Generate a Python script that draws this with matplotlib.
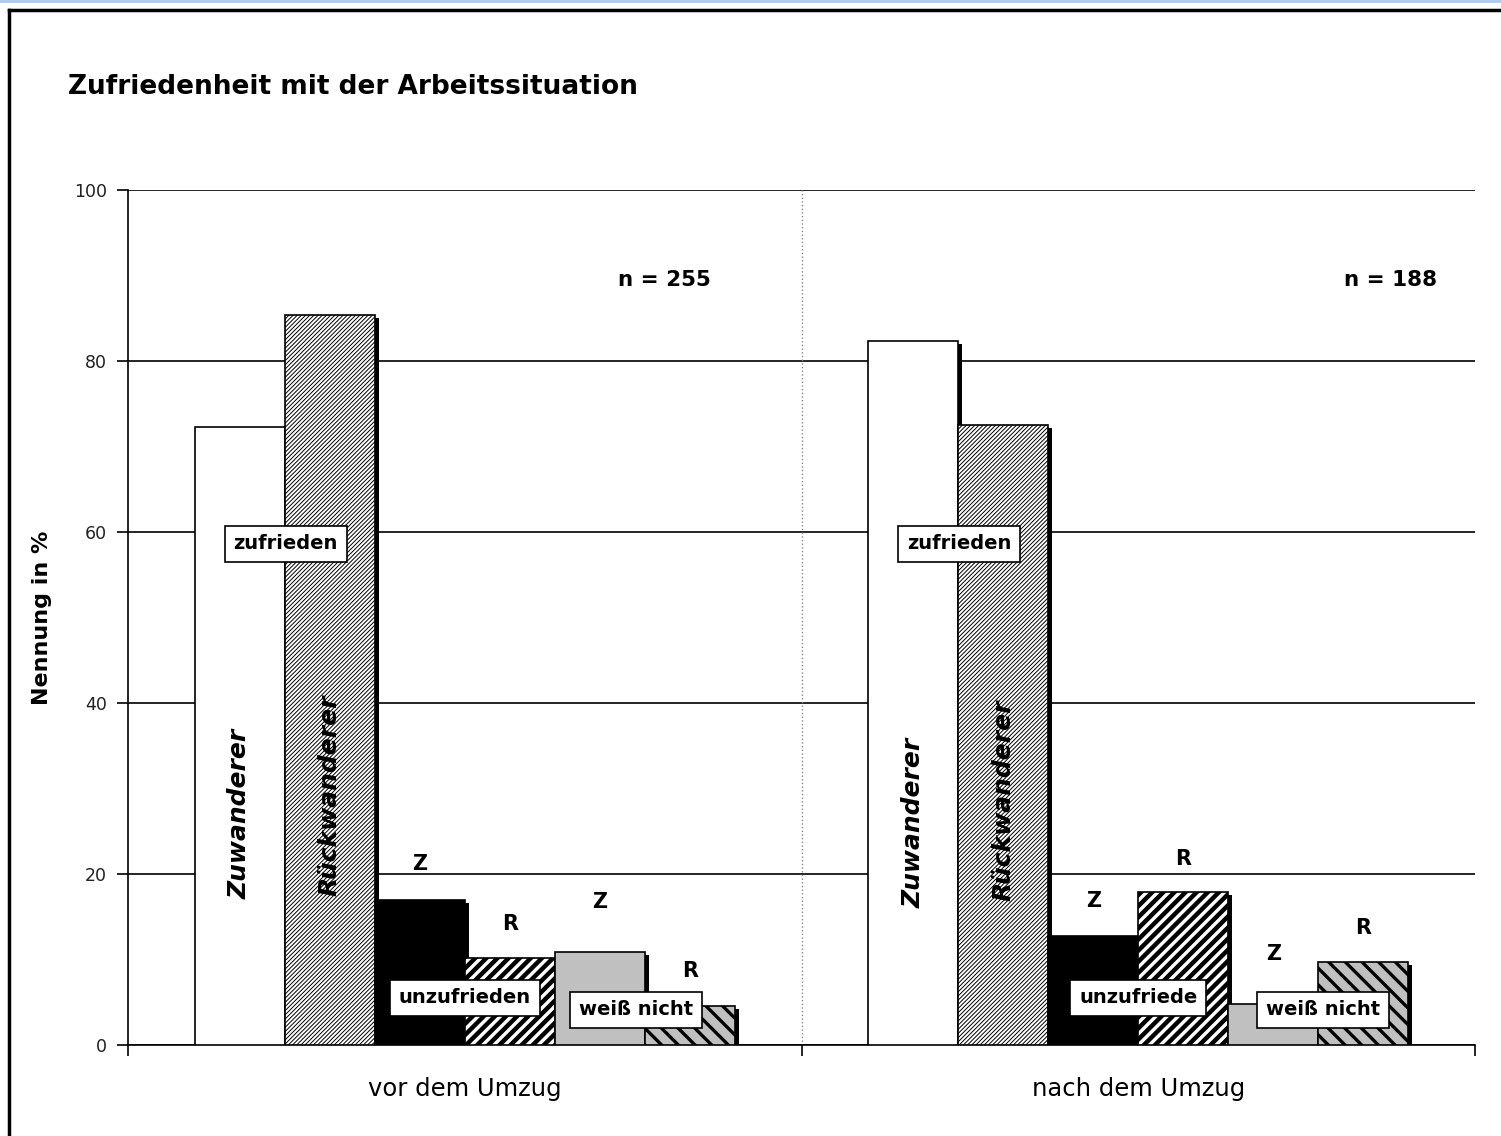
'''
Zufriedenheit mit der Arbeitssituation - grouped bars before/after the move.
'''
import matplotlib
matplotlib.use('Agg')
import matplotlib.pyplot as plt
import matplotlib.transforms as mtransforms
from matplotlib.lines import Line2D

# categories on the x axis
groups = ['vor dem Umzug', 'nach dem Umzug']
sample_sizes = ['n = 255', 'n = 188']

# series: Z = Zuwanderer, R = Rückwanderer
z_zufrieden = [72.3, 82.3]
r_zufrieden = [85.4, 72.5]
z_unzufrieden = [17.0, 12.7]
r_unzufrieden = [10.2, 17.9]
z_weiss_nicht = [10.9, 4.8]
r_weiss_nicht = [4.6, 9.7]

series = [z_zufrieden, r_zufrieden, z_unzufrieden,
          r_unzufrieden, z_weiss_nicht, r_weiss_nicht]
series_letters = ['', '', 'Z', 'R', 'Z', 'R']
box_labels = [['zufrieden', 'unzufrieden', 'weiß nicht'],
              ['zufrieden', 'unzufriede', 'weiß nicht']]

# look of each series: facecolor, hatch, hatch linewidth
styles = [
    ('white', '', 1.0),
    ('white', '////////', 0.7),
    ('black', '', 1.0),
    ('white', '///', 3.2),
    ('#c0c0c0', '', 1.0),
    ('#c0c0c0', '\\\\', 2.4),
]
# gap between bar top and its Z / R letter
letter_gap = [0, 0, 4.2, 3.9, 5.8, 4.0]

fig = plt.figure(figsize=(15.01, 11.36), dpi=100)
ax = fig.add_axes([128 / 1501, 1 - 1045 / 1136, 1347 / 1501, 855 / 1136])

width = 0.1336
offsets = [(i - 2.5) * width for i in range(6)]

# shadow shifted right and down
shadow_tr = ax.transData + mtransforms.ScaledTranslation(4 / 100, -3 / 100, fig.dpi_scale_trans)

for vals, off, (fc, hatch, hlw) in zip(series, offsets, styles):
    xs = [g + off for g in range(len(groups))]
    ax.bar(xs, vals, width, color='black', transform=shadow_tr, zorder=2)
    bars = ax.bar(xs, vals, width, facecolor=fc, edgecolor='black',
                  linewidth=1.2, hatch=hatch, zorder=3)
    for b in bars:
        if hasattr(b, 'set_hatch_linewidth'):
            b.set_hatch_linewidth(hlw)

# Z / R letters above the small bars
for vals, off, letter, gap in zip(series, offsets, series_letters, letter_gap):
    if not letter:
        continue
    for g, v in enumerate(vals):
        ax.text(g + off, v + gap, letter, ha='center', va='center',
                fontsize=15, fontweight='bold', zorder=5)

# rotated names inside the zufrieden bars
name_y = [[27.0, 29.2], [26.0, 28.6]]
for g in range(len(groups)):
    ax.text(g + offsets[0], name_y[g][0], 'Zuwanderer', rotation=90,
            ha='center', va='center', fontsize=18, fontweight='bold',
            fontstyle='italic', zorder=5)
    ax.text(g + offsets[1], name_y[g][1], 'Rückwanderer', rotation=90,
            ha='center', va='center', fontsize=18, fontweight='bold',
            fontstyle='italic', zorder=5)

# boxed category labels
box = dict(boxstyle='square,pad=0.45', facecolor='white', edgecolor='black', linewidth=1.2)
box_pos = [(-0.266, 58.6), (0.0, 5.5), (0.254, 4.1)]
for g in range(len(groups)):
    for (dx, y), lab in zip(box_pos, box_labels[g]):
        x = g + dx
        if g == 1 and lab.startswith('weiß'):
            x += 0.02
        ax.text(x, y, lab, ha='center', va='center', fontsize=14,
                fontweight='bold', bbox=box, zorder=6)

# sample sizes
ax.text(0.297, 89.5, sample_sizes[0], ha='center', va='center', fontsize=15.5, fontweight='bold')
ax.text(1.374, 89.5, sample_sizes[1], ha='center', va='center', fontsize=15.5, fontweight='bold')

# divider between the two groups
ax.axvline(0.5, color='#888888', linestyle=':', linewidth=1, zorder=1)

ax.set_xlim(-0.5, 1.5)
ax.set_ylim(0, 100)
ax.set_yticks([0, 20, 40, 60, 80, 100])
ax.set_yticklabels(['0', '20', '40', '60', '80', '100'], fontsize=12.5,
                   color='#222222')
ax.yaxis.grid(True, color='black', linewidth=1.2)
ax.set_axisbelow(True)

ax.set_xticks([0, 1])
ax.set_xticklabels(groups, fontsize=17.5)
ax.tick_params(axis='x', length=0, pad=23)
ax.set_xticks([-0.5, 0.5, 1.5], minor=True)
ax.tick_params(axis='x', which='minor', length=8, width=1.2, direction='out')
ax.tick_params(axis='y', length=8, width=1.2, direction='out', pad=7)

for side in ['top', 'right']:
    ax.spines[side].set_visible(False)
ax.spines['left'].set_linewidth(1.2)
ax.spines['bottom'].set_linewidth(1.2)

ax.set_ylabel('Nennung in %', fontsize=16, fontweight='bold', labelpad=16)

fig.text(68 / 1501, 1 - 87 / 1136, 'Zufriedenheit mit der Arbeitssituation',
         fontsize=19, fontweight='bold', ha='left', va='center')

# frame round the picture (left and top edges visible)
fig.add_artist(Line2D([9 / 1501, 9 / 1501], [0, 1 - 10 / 1136],
                      transform=fig.transFigure, color='black', linewidth=2.5))
fig.add_artist(Line2D([9 / 1501, 1], [1 - 10 / 1136, 1 - 10 / 1136],
                      transform=fig.transFigure, color='black', linewidth=2.5))
fig.add_artist(Line2D([0, 1], [1 - 1 / 1136, 1 - 1 / 1136],
                      transform=fig.transFigure, color='#a8c8f0', linewidth=2))

fig.savefig('out.png', dpi=100)
